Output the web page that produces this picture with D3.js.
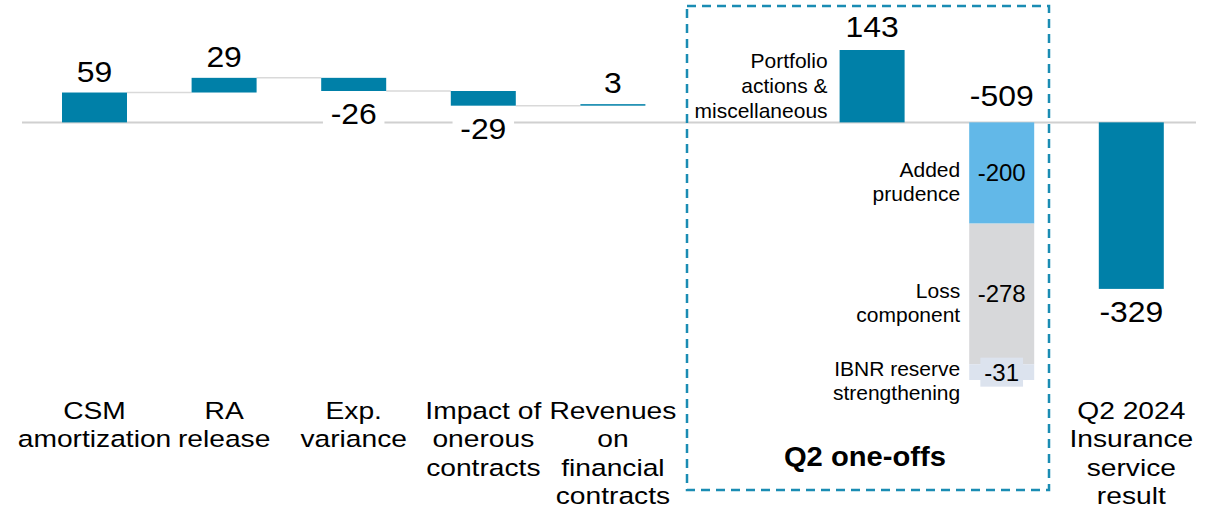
<!DOCTYPE html>
<html>
<head>
<meta charset="utf-8">
<script src="https://cdn.jsdelivr.net/npm/d3@7"></script>
<style>
  body { margin: 0; background: #fff; }
  svg text { font-family: "Liberation Sans", Arial, sans-serif; fill: #000; }
</style>
</head>
<body>
<svg id="chart" width="1216" height="512"></svg>
<script>
// waterfall steps (cumulative)
var stepLabels = [["CSM", "amortization"], ["RA", "release"], ["Exp.", "variance"],
  ["Impact of", "onerous", "contracts"], ["Revenues", "on", "financial", "contracts"]];
var stepValues = [59, 29, -26, -29, 3];

// Q2 one-offs (drawn from zero)
var oneOffPositive = 143;
var oneOffPositiveLabel = ["Portfolio", "actions &", "miscellaneous"];
var oneOffTotal = -509;
var oneOffParts = [-200, -278, -31];
var oneOffPartLabels = [["Added", "prudence"], ["Loss", "component"], ["IBNR reserve", "strengthening"]];
var oneOffColors = ["#62b8e8", "#d7d8da", "#dce3ee"];

// result
var resultValue = -329;
var resultLabel = ["Q2 2024", "Insurance", "service", "result"];

var slots = ["s0", "s1", "s2", "s3", "s4", "gap", "pos", "neg", "res"];

var teal = "#0080a8";
var svg = d3.select("#chart");

var x = d3.scalePoint().domain(slots).range([94.5, 1131.3]);
var y = d3.scaleLinear().domain([-509, 143]).range([380, 50]);
var bw = 65;

// baseline
svg.append("line")
  .attr("x1", 22).attr("x2", 1196)
  .attr("y1", y(0)).attr("y2", y(0))
  .attr("stroke", "#d0d0d0").attr("stroke-width", 2);

// cumulative
var steps = [];
var run = 0;
stepValues.forEach(function (v, i) {
  steps.push({ slot: slots[i], start: run, end: run + v, value: v, label: stepLabels[i] });
  run += v;
});

// connectors
var conn = svg.append("g").attr("class", "connectors");
steps.slice(0, -1).forEach(function (d, i) {
  conn.append("line")
    .attr("x1", x(d.slot) + bw / 2).attr("x2", x(steps[i + 1].slot) - bw / 2)
    .attr("y1", y(d.end)).attr("y2", y(d.end))
    .attr("stroke", "#d9d9d9").attr("stroke-width", 1.5);
});

// value label helper (with white background), slightly stretched like the source
function valueLabel(cx, yy, txt, bg) {
  var g = svg.append("g").attr("transform", "translate(" + cx + ",0) scale(1.1,1)");
  var t = g.append("text").attr("x", 0).attr("y", yy)
    .attr("text-anchor", "middle").attr("font-size", 29).text(txt);
  if (bg) {
    var b = t.node().getBBox();
    g.insert("rect", "text").attr("x", b.x - 7).attr("y", b.y)
      .attr("width", b.width + 14).attr("height", b.height).attr("fill", "#fff");
  }
}

steps.forEach(function (d) {
  var top = y(Math.max(d.start, d.end)), bot = y(Math.min(d.start, d.end));
  svg.append("rect")
    .attr("x", x(d.slot) - bw / 2).attr("width", bw)
    .attr("y", top).attr("height", Math.max(1.5, bot - top))
    .attr("fill", teal);
  if (d.value >= 0) valueLabel(x(d.slot), Math.min(top, bot - 1.5) - 11, d.value, false);
  else valueLabel(x(d.slot), bot + 33, d.value, true);
});

// multi-line text; sx stretches horizontally around cx
function multiLine(cx, y0, lines, size, anchor, lh, weight, sx) {
  sx = sx || 1;
  var t = svg.append("text").attr("text-anchor", anchor).attr("font-size", size)
    .attr("transform", "translate(" + cx + ",0) scale(" + sx + ",1)");
  if (weight) t.attr("font-weight", weight);
  lines.forEach(function (l, i) {
    t.append("tspan").attr("x", 0).attr("y", y0 + i * lh).text(l);
  });
  return t;
}
steps.forEach(function (d) { multiLine(x(d.slot), 419, d.label, 23.5, "middle", 28.3, null, 1.2); });

// Q2 one-offs: positive bar
svg.append("rect")
  .attr("x", x("pos") - bw / 2).attr("width", bw)
  .attr("y", y(oneOffPositive)).attr("height", y(0) - y(oneOffPositive))
  .attr("fill", teal);
valueLabel(x("pos"), y(oneOffPositive) - 13, oneOffPositive, false);
multiLine(x("pos") - bw / 2 - 12, 68, oneOffPositiveLabel, 21, "end", 25);

// stacked negative bar
var acc = 0;
oneOffParts.forEach(function (v, i) {
  var s = acc, e = acc + v;
  acc = e;
  var top = y(s), bot = y(e), mid = (top + bot) / 2;
  svg.append("rect")
    .attr("x", x("neg") - bw / 2).attr("width", bw)
    .attr("y", top).attr("height", bot - top)
    .attr("fill", oneOffColors[i]);
  var g = svg.append("g");
  var t = g.append("text").attr("x", x("neg")).attr("y", mid + 8.5)
    .attr("text-anchor", "middle").attr("font-size", 24).text(v);
  if (i === oneOffParts.length - 1) {
    var b = t.node().getBBox();
    g.insert("rect", "text").attr("x", b.x - 4).attr("y", b.y - 1)
      .attr("width", b.width + 8).attr("height", b.height + 2)
      .attr("fill", oneOffColors[i]);
  }
  multiLine(x("neg") - bw / 2 - 9, mid + 4, oneOffPartLabels[i], 21, "end", 24);
});
valueLabel(x("neg"), y(0) - 16, oneOffTotal, false);

// result bar
svg.append("rect")
  .attr("x", x("res") - bw / 2).attr("width", bw)
  .attr("y", y(0)).attr("height", y(resultValue) - y(0))
  .attr("fill", teal);
valueLabel(x("res"), y(resultValue) + 33, resultValue, false);
multiLine(x("res"), 419, resultLabel, 23.5, "middle", 28.3, null, 1.2);

// dashed box around one-offs
svg.append("rect")
  .attr("x", 687).attr("y", 6).attr("width", 362).attr("height", 484)
  .attr("fill", "none").attr("stroke", "#1a8cb3").attr("stroke-width", 2.5)
  .attr("stroke-dasharray", "9,6");
multiLine((x("pos") + x("neg")) / 2 - 72, 466, ["Q2 one-offs"], 27, "middle", 0, "bold", 1.08);
</script>
</body>
</html>
